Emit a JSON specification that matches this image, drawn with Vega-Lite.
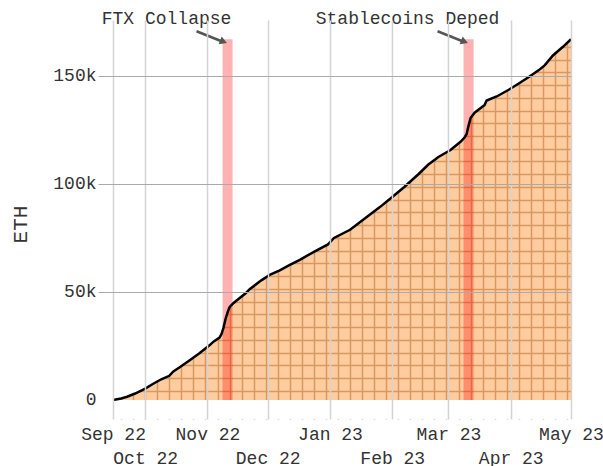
{
  "$schema": "https://vega.github.io/schema/vega-lite/v6.json",
  "width": 473,
  "height": 399,
  "autosize": {"type": "none"},
  "padding": {"left": 98, "top": 20, "right": 32, "bottom": 47},
  "background": "white",
  "config": {"view": {"stroke": null}, "font": "Liberation Mono"},
  "datasets": {
    "eth": [
      {"date": "2022-09-15", "eth": 0},
      {"date": "2022-09-19", "eth": 700},
      {"date": "2022-09-22", "eth": 1500},
      {"date": "2022-09-26", "eth": 3000},
      {"date": "2022-10-01", "eth": 5300},
      {"date": "2022-10-05", "eth": 7500},
      {"date": "2022-10-09", "eth": 9600},
      {"date": "2022-10-13", "eth": 11200},
      {"date": "2022-10-15", "eth": 13200},
      {"date": "2022-10-18", "eth": 15000},
      {"date": "2022-10-23", "eth": 18300},
      {"date": "2022-10-28", "eth": 21600},
      {"date": "2022-11-02", "eth": 25300},
      {"date": "2022-11-04", "eth": 27000},
      {"date": "2022-11-07", "eth": 28900},
      {"date": "2022-11-08", "eth": 30500},
      {"date": "2022-11-09", "eth": 33500},
      {"date": "2022-11-10", "eth": 37500},
      {"date": "2022-11-11", "eth": 40500},
      {"date": "2022-11-12", "eth": 43000},
      {"date": "2022-11-14", "eth": 44900},
      {"date": "2022-11-20", "eth": 49400},
      {"date": "2022-11-22", "eth": 51300},
      {"date": "2022-11-28", "eth": 55500},
      {"date": "2022-12-02", "eth": 57900},
      {"date": "2022-12-07", "eth": 60000},
      {"date": "2022-12-12", "eth": 62500},
      {"date": "2022-12-17", "eth": 64900},
      {"date": "2022-12-24", "eth": 68600},
      {"date": "2022-12-31", "eth": 72000},
      {"date": "2023-01-03", "eth": 75000},
      {"date": "2023-01-11", "eth": 78800},
      {"date": "2023-01-18", "eth": 83800},
      {"date": "2023-01-26", "eth": 89400},
      {"date": "2023-02-01", "eth": 94000},
      {"date": "2023-02-07", "eth": 98600},
      {"date": "2023-02-14", "eth": 104500},
      {"date": "2023-02-19", "eth": 109000},
      {"date": "2023-02-24", "eth": 112500},
      {"date": "2023-03-02", "eth": 115700},
      {"date": "2023-03-07", "eth": 119500},
      {"date": "2023-03-09", "eth": 121500},
      {"date": "2023-03-10", "eth": 123000},
      {"date": "2023-03-11", "eth": 127000},
      {"date": "2023-03-12", "eth": 130500},
      {"date": "2023-03-14", "eth": 133000},
      {"date": "2023-03-19", "eth": 136600},
      {"date": "2023-03-20", "eth": 138600},
      {"date": "2023-03-25", "eth": 140500},
      {"date": "2023-03-31", "eth": 143600},
      {"date": "2023-04-05", "eth": 146500},
      {"date": "2023-04-10", "eth": 149500},
      {"date": "2023-04-15", "eth": 152700},
      {"date": "2023-04-18", "eth": 155000},
      {"date": "2023-04-22", "eth": 159500},
      {"date": "2023-04-27", "eth": 163500},
      {"date": "2023-05-01", "eth": 167000}
    ],
    "events": [
      {"event": "FTX Collapse", "date": "2022-11-11", "start": "2022-11-08T12:00:00Z", "end": "2022-11-13T12:00:00Z", "peak": 167000},
      {"event": "Stablecoins Deped", "date": "2023-03-11", "start": "2023-03-08T12:00:00Z", "end": "2023-03-13T12:00:00Z", "peak": 167000}
    ]
  },
  "resolve": {"axis": {"x": "independent", "y": "independent"}},
  "layer": [
    {
      "data": {"name": "eth"},
      "mark": {"type": "area", "color": "white", "opacity": 1},
      "encoding": {
        "x": {
          "field": "date", "type": "temporal",
          "scale": {"type": "utc", "domain": [{"year": 2022, "month": 9, "date": 7, "hours": 12, "utc": true}, {"year": 2023, "month": 5, "date": 1, "utc": true}]},
          "axis": {
            "orient": "bottom", "grid": true, "gridColor": "#bfa898", "gridWidth": 1.5, "labels": false, "ticks": false, "domain": false, "title": null, "zindex": 0,
            "values": [
              {"year": 2022, "month": 9, "date": 19, "utc": true}, {"year": 2022, "month": 9, "date": 25, "utc": true},
              {"year": 2022, "month": 10, "date": 1, "utc": true}, {"year": 2022, "month": 10, "date": 7, "utc": true},
              {"year": 2022, "month": 10, "date": 13, "utc": true}, {"year": 2022, "month": 10, "date": 19, "utc": true},
              {"year": 2022, "month": 10, "date": 25, "utc": true}, {"year": 2022, "month": 10, "date": 31, "utc": true},
              {"year": 2022, "month": 11, "date": 6, "utc": true}, {"year": 2022, "month": 11, "date": 12, "utc": true},
              {"year": 2022, "month": 11, "date": 18, "utc": true}, {"year": 2022, "month": 11, "date": 24, "utc": true},
              {"year": 2022, "month": 11, "date": 30, "utc": true}, {"year": 2022, "month": 12, "date": 6, "utc": true},
              {"year": 2022, "month": 12, "date": 12, "utc": true}, {"year": 2022, "month": 12, "date": 18, "utc": true},
              {"year": 2022, "month": 12, "date": 24, "utc": true}, {"year": 2022, "month": 12, "date": 30, "utc": true},
              {"year": 2023, "month": 1, "date": 5, "utc": true}, {"year": 2023, "month": 1, "date": 11, "utc": true},
              {"year": 2023, "month": 1, "date": 17, "utc": true}, {"year": 2023, "month": 1, "date": 23, "utc": true},
              {"year": 2023, "month": 1, "date": 29, "utc": true}, {"year": 2023, "month": 2, "date": 4, "utc": true},
              {"year": 2023, "month": 2, "date": 10, "utc": true}, {"year": 2023, "month": 2, "date": 16, "utc": true},
              {"year": 2023, "month": 2, "date": 22, "utc": true}, {"year": 2023, "month": 2, "date": 28, "utc": true},
              {"year": 2023, "month": 3, "date": 6, "utc": true}, {"year": 2023, "month": 3, "date": 12, "utc": true},
              {"year": 2023, "month": 3, "date": 18, "utc": true}, {"year": 2023, "month": 3, "date": 24, "utc": true},
              {"year": 2023, "month": 3, "date": 30, "utc": true}, {"year": 2023, "month": 4, "date": 5, "utc": true},
              {"year": 2023, "month": 4, "date": 11, "utc": true}, {"year": 2023, "month": 4, "date": 17, "utc": true},
              {"year": 2023, "month": 4, "date": 23, "utc": true}, {"year": 2023, "month": 4, "date": 29, "utc": true}
            ]
          }
        },
        "y": {
          "field": "eth", "type": "quantitative",
          "scale": {"domain": [-8800, 175900], "nice": false, "zero": false},
          "axis": {
            "orient": "left", "grid": true, "gridColor": "#bfa898", "gridWidth": 1.5, "labels": false, "ticks": false, "domain": false, "title": null, "zindex": 0,
            "values": [4200, 10100, 16000, 21900, 27800, 33700, 39600, 45500, 51400, 57300, 63200, 69100, 75000, 80900, 86800, 92700, 98600, 104500, 110400, 116300, 122200, 128100, 134000, 139900, 145800, 151700, 157600, 163500]
          }
        },
        "y2": {"datum": 175900}
      }
    },
    {
      "data": {"values": [{}]},
      "mark": {"type": "rect", "color": "white", "opacity": 1},
      "encoding": {
        "x": {"datum": {"year": 2022, "month": 9, "date": 7, "hours": 12, "utc": true}, "type": "temporal", "axis": null},
        "x2": {"datum": {"year": 2022, "month": 9, "date": 15, "utc": true}},
        "y": {"datum": -8800, "type": "quantitative", "axis": null},
        "y2": {"datum": 175900}
      }
    },
    {
      "data": {"values": [{}]},
      "mark": {"type": "rect", "color": "white", "opacity": 1},
      "encoding": {
        "x": {"datum": {"year": 2022, "month": 9, "date": 7, "hours": 12, "utc": true}, "type": "temporal", "axis": null},
        "x2": {"datum": {"year": 2023, "month": 5, "date": 1, "utc": true}},
        "y": {"datum": -8800, "type": "quantitative", "axis": null},
        "y2": {"datum": 0}
      }
    },
    {
      "data": {"name": "eth"},
      "mark": {"type": "area", "color": "#ff7f0e", "opacity": 0.4},
      "encoding": {
        "x": {
          "field": "date", "type": "temporal",
          "axis": {
            "orient": "bottom", "grid": true, "gridColor": "#d4d4d4", "gridWidth": 1.5,
            "ticks": false, "domain": false, "title": null, "zindex": 1,
            "labelFont": "Liberation Mono", "labelFontSize": 18, "labelColor": "#333333", "labelPadding": 6,
            "labelFlush": false, "labelOverlap": false, "labelBaseline": "top", "labelLineHeight": 24,
            "labelExpr": "utcmonth(datum.value) % 2 === 1 ? ['', utcFormat(datum.value, '%b %y')] : utcFormat(datum.value, '%b %y')",
            "values": [
              {"year": 2022, "month": 9, "date": 15, "utc": true}, {"year": 2022, "month": 10, "date": 1, "utc": true},
              {"year": 2022, "month": 11, "date": 1, "utc": true}, {"year": 2022, "month": 12, "date": 1, "utc": true},
              {"year": 2023, "month": 1, "date": 1, "utc": true}, {"year": 2023, "month": 2, "date": 1, "utc": true},
              {"year": 2023, "month": 3, "date": 1, "utc": true}, {"year": 2023, "month": 4, "date": 1, "utc": true},
              {"year": 2023, "month": 5, "date": 1, "utc": true}
            ]
          }
        },
        "y": {
          "field": "eth", "type": "quantitative",
          "axis": {
            "orient": "left", "values": [0, 50000, 100000, 150000],
            "labelExpr": "datum.value === 0 ? '0' : format(datum.value / 1000, 'd') + 'k'",
            "grid": true, "gridColor": "#aaaaaa", "gridWidth": 1,
            "gridOpacity": {"condition": {"test": "datum.value === 0", "value": 0}, "value": 1},
            "ticks": false, "domain": false, "zindex": 1,
            "labelFont": "Liberation Mono", "labelFontSize": 18, "labelColor": "#333333", "labelPadding": 2,
            "title": "ETH", "titleFont": "Liberation Mono", "titleFontSize": 21, "titleFontWeight": "normal", "titleColor": "#333333",
            "titleX": -78, "titleY": 204, "titleBaseline": "middle"
          }
        },
        "y2": {"datum": 0}
      }
    },
    {
      "data": {"name": "events"},
      "mark": {"type": "rect", "color": "red", "opacity": 0.3},
      "encoding": {
        "x": {"field": "start", "type": "temporal", "axis": null},
        "x2": {"field": "end"},
        "y": {"field": "peak", "type": "quantitative", "axis": null},
        "y2": {"datum": 0}
      }
    },
    {
      "data": {"name": "eth"},
      "mark": {"type": "line", "color": "black", "strokeWidth": 2.5},
      "encoding": {
        "x": {"field": "date", "type": "temporal", "axis": null},
        "y": {"field": "eth", "type": "quantitative", "axis": null}
      }
    },
    {
      "data": {"name": "events"},
      "mark": {"type": "rule", "color": "#555555", "strokeWidth": 2.5, "xOffset": -6, "yOffset": 2, "x2Offset": -31, "y2Offset": -8},
      "encoding": {
        "x": {"field": "date", "type": "temporal", "axis": null},
        "x2": {"field": "date"},
        "y": {"field": "peak", "type": "quantitative", "axis": null},
        "y2": {"field": "peak"}
      }
    },
    {
      "data": {"name": "events"},
      "mark": {"type": "point", "shape": "triangle-right", "angle": 21, "size": 70, "filled": true, "color": "#555555", "opacity": 1, "xOffset": -4, "yOffset": 2.5},
      "encoding": {
        "x": {"field": "date", "type": "temporal", "axis": null},
        "y": {"field": "peak", "type": "quantitative", "axis": null}
      }
    },
    {
      "data": {"name": "events"},
      "mark": {"type": "text", "font": "Liberation Mono", "fontSize": 18, "color": "#333333", "align": "center", "baseline": "middle", "dx": -61, "dy": -20},
      "encoding": {
        "x": {"field": "date", "type": "temporal", "axis": null},
        "y": {"field": "peak", "type": "quantitative", "axis": null},
        "text": {"field": "event"}
      }
    }
  ]
}
